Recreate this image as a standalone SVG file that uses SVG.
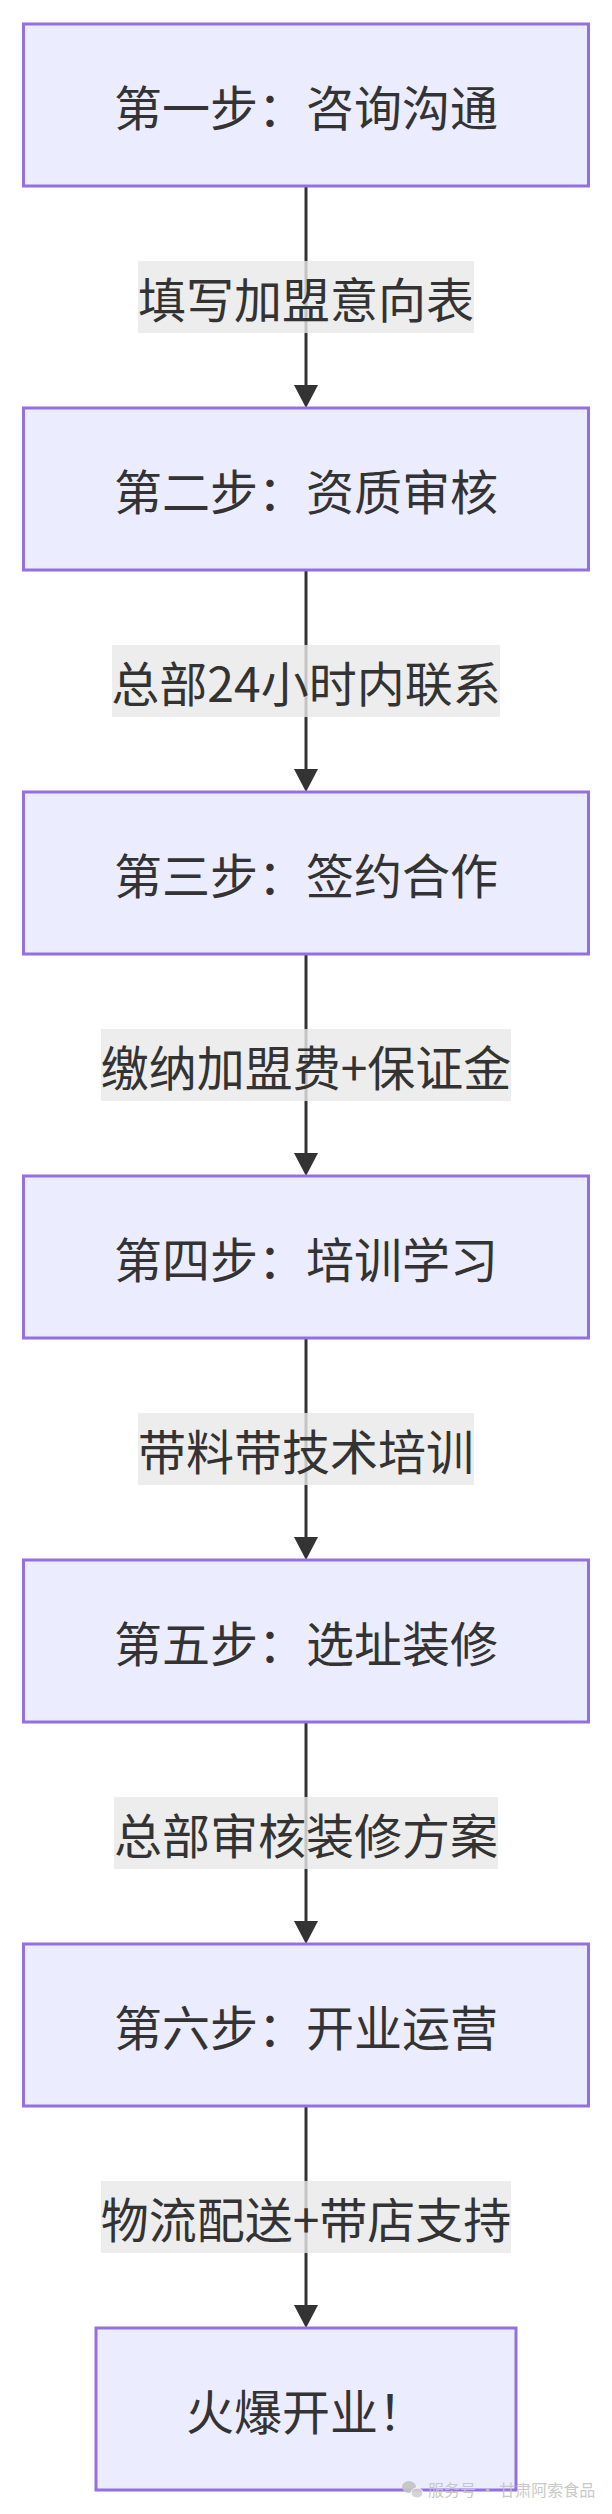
<svg xmlns="http://www.w3.org/2000/svg" width="612" height="2514" viewBox="0 0 612 2514">
<style>
.node rect{fill:#ECECFF;stroke:#9370DB;stroke-width:3}
.node text{font-family:"Noto Sans CJK SC","Liberation Sans",sans-serif;font-size:48px;fill:#333333;text-anchor:middle;dominant-baseline:central}
.edge line{stroke:#333333;stroke-width:3}
.edge polygon{fill:#333333}
.elabel rect{fill:rgba(232,232,232,0.8)}
.elabel text{font-family:"Noto Sans CJK SC","Liberation Sans",sans-serif;font-size:48px;fill:#333333;text-anchor:middle;dominant-baseline:central}
.wm{font-family:"Noto Sans CJK SC","Liberation Sans",sans-serif;font-size:16px;fill:#c4c4c4}
</style>
<rect width="612" height="2514" fill="#ffffff"/>
<g id="connectors">
  <g class="edge"><line x1="306" y1="186" x2="306" y2="386"/><polygon points="294,385 318,385 306,408"/></g>
  <g class="edge"><line x1="306" y1="570" x2="306" y2="770"/><polygon points="294,769 318,769 306,792"/></g>
  <g class="edge"><line x1="306" y1="954" x2="306" y2="1154"/><polygon points="294,1153 318,1153 306,1176"/></g>
  <g class="edge"><line x1="306" y1="1338" x2="306" y2="1538"/><polygon points="294,1537 318,1537 306,1560"/></g>
  <g class="edge"><line x1="306" y1="1722" x2="306" y2="1922"/><polygon points="294,1921 318,1921 306,1944"/></g>
  <g class="edge"><line x1="306" y1="2106" x2="306" y2="2306"/><polygon points="294,2305 318,2305 306,2328"/></g>
  <g class="elabel"><rect x="138" y="261" width="336" height="72"/><text x="306" y="297">填写加盟意向表</text></g>
  <g class="elabel"><rect x="112" y="645" width="388" height="72"/><text x="306" y="681">总部24小时内联系</text></g>
  <g class="elabel"><rect x="101" y="1029" width="410" height="72"/><text x="306" y="1065">缴纳加盟费+保证金</text></g>
  <g class="elabel"><rect x="138" y="1413" width="336" height="72"/><text x="306" y="1449">带料带技术培训</text></g>
  <g class="elabel"><rect x="114" y="1797" width="384" height="72"/><text x="306" y="1833">总部审核装修方案</text></g>
  <g class="elabel"><rect x="101" y="2181" width="410" height="72"/><text x="306" y="2217">物流配送+带店支持</text></g>
</g>
<g id="step1" class="node"><rect x="23.5" y="24" width="565" height="162"/><text x="306" y="105">第一步：咨询沟通</text></g>
<g id="step2" class="node"><rect x="23.5" y="408" width="565" height="162"/><text x="306" y="489">第二步：资质审核</text></g>
<g id="step3" class="node"><rect x="23.5" y="792" width="565" height="162"/><text x="306" y="873">第三步：签约合作</text></g>
<g id="step4" class="node"><rect x="23.5" y="1176" width="565" height="162"/><text x="306" y="1257">第四步：培训学习</text></g>
<g id="step5" class="node"><rect x="23.5" y="1560" width="565" height="162"/><text x="306" y="1641">第五步：选址装修</text></g>
<g id="step6" class="node"><rect x="23.5" y="1944" width="565" height="162"/><text x="306" y="2025">第六步：开业运营</text></g>
<g id="open" class="node"><rect x="96" y="2328" width="420" height="162"/><text x="306" y="2409">火爆开业！</text></g>
<g id="watermark" opacity="0.9">
  <ellipse cx="409" cy="2487" rx="7" ry="6" fill="#c4c4c4"/>
  <ellipse cx="417" cy="2493" rx="6" ry="5" fill="#d0d0d0" stroke="#ffffff" stroke-width="1"/>
  <text class="wm" x="428" y="2496">服务号 · 甘肃阿索食品</text>
</g>
</svg>
